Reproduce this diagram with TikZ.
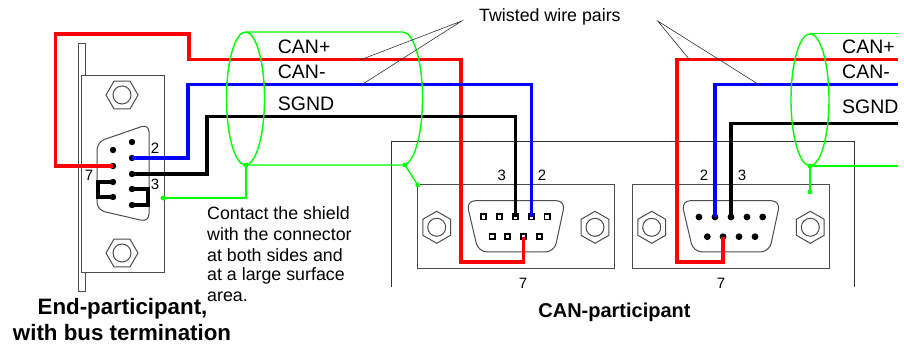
\documentclass[tikz,border=0pt]{standalone}
\usepackage{fontspec}
\setmainfont{Liberation Sans}
\usepackage{xcolor}
\definecolor{wirered}{RGB}{255,0,0}
\definecolor{wireblue}{RGB}{0,0,255}
\definecolor{shieldgreen}{RGB}{0,255,0}
\tikzset{
    wire/.style={line width=3.2pt, line join=miter},
    shield/.style={shieldgreen, line width=1.4pt},
    housing/.style={draw=black!70, line width=1pt},
    leader/.style={black!80, line width=0.6pt},
    pinlabel/.style={inner sep=0pt, font=\fontsize{15}{17}\selectfont},
    wirelabel/.style={anchor=west, inner sep=0pt, font=\fontsize{19.5}{22}\selectfont},
    plaintext/.style={anchor=west, inner sep=0pt, font=\fontsize{17.8}{20}\selectfont},
    boldtext/.style={inner sep=0pt, font=\bfseries\fontsize{#1}{24}\selectfont}
}
\begin{document}
\begin{tikzpicture}[x=1pt, y=-1pt]
        \newcommand{\drawnut}[3]{
            \begin{scope}[shift={(#1,#2)}]
                \draw [housing, fill=white] (#3:16) -- (#3+60:16) -- (#3+120:16) -- (#3+180:16) -- (#3+240:16) -- (#3+300:16) -- cycle;
                \draw [housing] (0,0) circle [radius=9];
            \end{scope}
        }
        \newcommand{\drawsocket}[1]{
            \draw [housing, rounded corners=9] (#1-2,200.7) -- (#1+97,200.7) -- (#1+86,252) -- (#1+10,252) -- cycle;
        }
        \useasboundingbox (0,0) rectangle (904,347);

        % end participant
        \draw [housing, fill=white] (78.3,44) rectangle (85.7,291);
        \draw [housing, fill=white] (81,76) rectangle (164,272);
        \drawnut{122}{95}{0}
        \drawnut{122}{253}{0}
        \draw [housing, rounded corners=8] (97,142) -- (149,124) -- (149,222) -- (97,210) -- cycle;
        \foreach \i/\y in {1/142,2/158,3/174,4/189,5/205} {
            \fill (132,\y) circle [radius=3.2];
            \coordinate (endA\i) at (132,\y);
        }
        \foreach \i/\y in {6/150,7/166,8/182,9/197} {
            \fill (113,\y) circle [radius=3.2];
            \coordinate (endA\i) at (113,\y);
        }
        \node [pinlabel] (endtwo) at (155,148) {2};
        \node [pinlabel] (endseven) at (89,175) {7};
        \node [pinlabel] (endthree) at (155,184) {3};

        % participant housing
        \draw [black!80, line width=0.8pt] (391.7,287) -- (391.7,141.7) -- (854,141.7) -- (854,287);
        \draw [housing, fill=white] (417.3,185) rectangle (614,268);
        \draw [housing, fill=white] (632.7,185) rectangle (829.3,268);
        \drawnut{436.7}{227.3}{30}
        \drawnut{595}{227.3}{30}
        \drawnut{651.7}{227.3}{30}
        \drawnut{810.3}{227.3}{30}
        \drawsocket{468.3}
        \drawsocket{683.3}
        \foreach \i/\x in {1/483.3,2/499.3,3/515.3,4/531.3,5/547} {
            \draw [black, line width=1.8pt, fill=white] (\x-2.6,214.4) rectangle (\x+2.6,219.6);
            \coordinate (leftP\i) at (\x,217);
        }
        \foreach \i/\x in {6/492,7/507.3,8/523.3,9/539.3} {
            \draw [black, line width=1.8pt, fill=white] (\x-2.6,234.1) rectangle (\x+2.6,239.3);
            \coordinate (leftP\i) at (\x,236.7);
        }
        \foreach \i/\x in {1/699,2/715,3/731,4/747,5/762.7} {
            \fill (\x,217) circle [radius=3.4];
            \coordinate (rightP\i) at (\x,217);
        }
        \foreach \i/\x in {6/707.3,7/723,8/739,9/755} {
            \fill (\x,236.7) circle [radius=3.4];
            \coordinate (rightP\i) at (\x,236.7);
        }

        % wires
        \draw [wire, wirered] (endA7) -- (55.5,166) -- (55.5,34) -- (189,34) -- (189,59.5) -- (461,59.5) -- (461,262) -- (523.3,262) -- (leftP8);
        \draw [wire, wireblue] (endA2) -- (188,158) -- (188,84.7) -- (531.3,84.7) -- (leftP4);
        \draw [wire, black] (endA3) -- (207,174) -- (207,116.4) -- (515.3,116.4) -- (leftP3);
        \draw [wire, black] (endA8) -- (98,182) -- (98,197) -- (endA9);
        \draw [wire, black] (endA4) -- (148,189) -- (148,205) -- (endA5);
        \coordinate (rightend) at (898,59.5);
        \draw [wire, wirered] (rightend) -- (677,59.5) -- (677,262) -- (723,262) -- (rightP7);
        \coordinate (rightendB) at (898,84.7);
        \draw [wire, wireblue] (rightendB) -- (715,84.7) -- (rightP2);
        \coordinate (rightendC) at (898,123.3);
        \draw [wire, black] (rightendC) -- (731,123.3) -- (rightP3);

        % shields
        \coordinate (shieldtop) at (246,32);
        \coordinate (shieldbot) at (246,165);
        \coordinate (shieldend) at (405,165);
        \draw [shield] (245.5,98.5) ellipse [x radius=19, y radius=66.5];
        \draw [shield] (shieldtop) -- (403,32) arc [start angle=-90, end angle=90, x radius=19.5, y radius=66.5] -- (shieldbot);
        \coordinate (contactA) at (417.7,185);
        \coordinate (contactB) at (163,198);
        \coordinate (contactC) at (810,192);
        \coordinate (shieldbotB) at (810,166);
        \draw [shield] (shieldend) -- (contactA);
        \draw [shield] (shieldbot) -- (246,198) -- (contactB);
        \draw [shield] (810,99.8) ellipse [x radius=19, y radius=66];
        \coordinate (shieldtopB) at (810,33.5);
        \coordinate (shieldtopC) at (898,33.5);
        \draw [shield] (shieldtopB) -- (shieldtopC);
        \draw [shield] (shieldbotB) -- (898,166);
        \draw [shield] (shieldbotB) -- (contactC);
        \foreach \c in {shieldbot,shieldend,contactA,contactB,contactC,shieldbotB} {
            \fill [shieldgreen] (\c) circle [radius=2.4];
        }

        % labels
        \node [wirelabel] (canhigh) at (277.7,47) {CAN+};
        \node [wirelabel] (canlow) at (277.7,72) {CAN-};
        \node [wirelabel] (sgnd) at (277.7,104) {SGND};
        \node [wirelabel] (canhighB) at (842,47) {CAN+};
        \node [wirelabel] (canlowB) at (842,72) {CAN-};
        \node [wirelabel] (sgndB) at (842,107) {SGND};
        \node [plaintext] (twisted) at (479,17) {Twisted wire pairs};
        \coordinate (tipL) at (461.7,21);
        \coordinate (tipR) at (657.7,21);
        \draw [leader] (360,60) -- (tipL) -- (361.7,84.7);
        \draw [leader] (689,59) -- (tipR) -- (759,84.7);
        \foreach \n/\x/\t in {a/501.7/3,b/542/2,c/704/2,d/742/3} {
            \node [pinlabel] (top\n) at (\x,175) {\t};
        }
        \node [pinlabel] (sevenL) at (523,283) {7};
        \node [pinlabel] (sevenR) at (721,283) {7};
        \node [plaintext] (noteA) at (207,213) {Contact the shield};
        \node [plaintext] (noteB) at (207,234) {with the connector};
        \node [plaintext] (noteC) at (207,255) {at both sides and};
        \node [plaintext] (noteD) at (207,276) {at a large surface};
        \node [plaintext] (noteE) at (207,297) {area.};
        \node [boldtext=22.3] (endtitle) at (122.5,309) {End-participant,};
        \node [boldtext=22.3] (endtitleB) at (122,333) {with bus termination};
        \node [boldtext=20] (cantitle) at (614.5,312) {CAN-participant};
    \end{tikzpicture}
\end{document}
